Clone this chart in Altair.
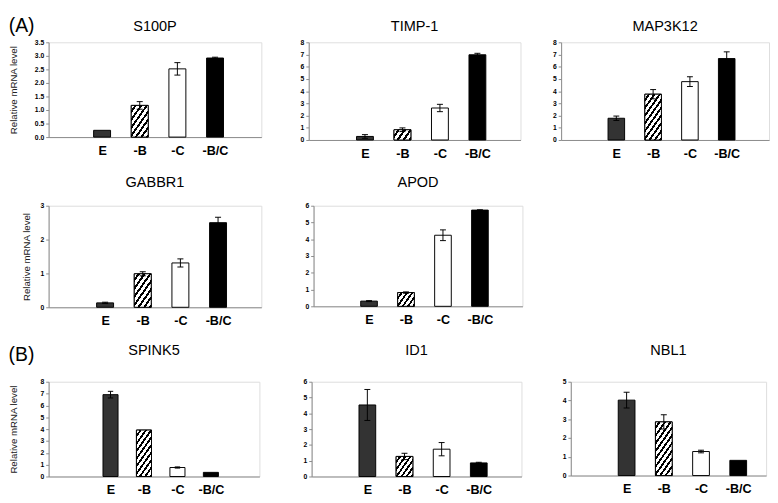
import math
import altair as alt
import pandas as pd

CATS = ["E", "-B", "-C", "-B/C"]

# (A) up-regulated genes
S100P_VAL = [0.25, 1.17, 2.52, 2.92]
S100P_ERR = [0.0, 0.14, 0.23, 0.03]
TIMP1_VAL = [0.29, 0.84, 2.62, 6.98]
TIMP1_ERR = [0.15, 0.15, 0.30, 0.12]
MAP3K12_VAL = [1.78, 3.75, 4.78, 6.67]
MAP3K12_ERR = [0.18, 0.38, 0.40, 0.55]
GABBR1_VAL = [0.13, 0.99, 1.31, 2.50]
GABBR1_ERR = [0.02, 0.06, 0.12, 0.16]
APOD_VAL = [0.31, 0.82, 4.24, 5.74]
APOD_ERR = [0.03, 0.04, 0.32, 0.02]
# (B) down-regulated genes
SPINK5_VAL = [6.91, 3.92, 0.76, 0.35]
SPINK5_ERR = [0.28, 0.0, 0.05, 0.0]
ID1_VAL = [4.53, 1.27, 1.73, 0.86]
ID1_ERR = [0.98, 0.20, 0.42, 0.04]
NBL1_VAL = [4.02, 2.86, 1.28, 0.81]
NBL1_ERR = [0.42, 0.38, 0.07, 0.0]

FONT = "Liberation Sans"
HALF = 0.225
AXIS_GRAY = "#8a8a8a"


def hatch_fill(w, h, theta=55, period=4.6, frac=0.42):
    th = math.radians(theta)
    s, c = math.sin(th), math.cos(th)
    L = w * s + h * c
    k = L / (w * w * s * s + h * h * c * c)
    gx, gy = k * w * s, k * h * c
    n = max(1, round(L / period))
    stops = []
    for i in range(n):
        a = i / n
        b = (i + 1 - frac) / n
        e = (i + 1) / n
        stops += [
            {"offset": a, "color": "white"},
            {"offset": b, "color": "white"},
            {"offset": b, "color": "black"},
            {"offset": e, "color": "black"},
        ]
    return {"gradient": "linear", "x1": 0, "y1": 0, "x2": gx, "y2": gy, "stops": stops}


def panel(name, vals, errs, ymax, ystep, fmt, e_color, ytitle, W, H,
          tpad=8, toff=9, ext=0, xdom=(0, 5.65)):
    df = pd.DataFrame({"cat": CATS, "idx": list(range(len(CATS))), "val": vals, "err": errs})
    base = alt.Chart(df).transform_calculate(
        pos="datum.idx + 1.5",
        x0=f"datum.idx + 1.5 - {HALF}",
        x1=f"datum.idx + 1.5 + {HALF}",
        c0="datum.idx + 1.5 - 0.08",
        c1="datum.idx + 1.5 + 0.08",
        zero="0",
        lo="datum.val - datum.err",
        hi="datum.val + datum.err",
    )
    nticks = int(round(ymax / ystep))
    yvals = [round(i * ystep, 3) for i in range(nticks + 1)]
    xscale = alt.Scale(domain=list(xdom), nice=False, zero=False)
    yscale = alt.Scale(domain=[0, ymax], nice=False)
    label_expr = "[" + ",".join(f"'{c}'" for c in CATS) + "][round(datum.value - 1.5)]"
    xax = alt.Axis(
        values=[i + 1.5 for i in range(len(CATS))],
        labelExpr=label_expr,
        ticks=False,
        grid=False,
        title=None,
        domainColor=AXIS_GRAY,
        labelFontSize=13,
        labelFontWeight="bold",
        labelFont=FONT,
        labelColor="black",
        labelPadding=8,
        labelOverlap=False,
    )
    yargs = dict(
        values=yvals,
        format=fmt,
        grid=False,
        title=ytitle if ytitle else None,
        domainColor=AXIS_GRAY,
        tickColor=AXIS_GRAY,
        tickSize=3,
        labelFontSize=7,
        labelFontWeight="bold",
        labelFont=FONT,
        labelColor="black",
        labelPadding=2,
        labelOverlap=False,
        labelFlush=False,
        titleFont=FONT,
        titleFontSize=10,
        titleFontWeight="normal",
        titleColor="#222222",
        titlePadding=tpad,
    )
    if ext:
        yargs["minExtent"] = ext
    yax = alt.Axis(**yargs)

    def X(f):
        return alt.X(f"{f}:Q", scale=xscale, axis=xax)

    def Y(f):
        return alt.Y(f"{f}:Q", scale=yscale, axis=yax)

    bars = base.mark_rect(stroke="black", strokeWidth=1).encode(
        x=X("x0"),
        x2="x1:Q",
        y=Y("val"),
        y2="zero:Q",
        fill=alt.Color(
            "cat:N",
            scale=alt.Scale(domain=CATS, range=[e_color, "white", "white", "black"]),
            legend=None,
        ),
    )
    w_px = 2 * HALF * W / (xdom[1] - xdom[0])
    h_px = vals[1] / ymax * H
    hatch = base.transform_filter("datum.cat == '-B'").mark_rect(
        fill=hatch_fill(w_px, h_px), stroke="black", strokeWidth=1
    ).encode(x=X("x0"), x2="x1:Q", y=Y("val"), y2="zero:Q")
    eb = base.transform_filter("datum.err > 0")
    stem = eb.mark_rule(color="black", strokeWidth=1).encode(
        x=X("pos"), y=Y("lo"), y2="hi:Q"
    )
    cap_hi = eb.mark_rule(color="black", strokeWidth=1).encode(
        x=X("c0"), x2="c1:Q", y=Y("hi")
    )
    cap_lo = eb.mark_rule(color="black", strokeWidth=1).encode(
        x=X("c0"), x2="c1:Q", y=Y("lo")
    )
    return alt.layer(bars, hatch, stem, cap_hi, cap_lo).properties(
        width=W,
        height=H,
        title=alt.TitleParams(
            text=name, font=FONT, fontSize=15, fontWeight="normal", color="black", offset=toff
        ),
    )


YT = "Relative mRNA level"
DARK = "#333333"
MID = "#808080"

row1 = alt.hconcat(
    panel("S100P", S100P_VAL, S100P_ERR, 3.5, 0.5, ".1f", DARK, YT, 220, 98, tpad=16, toff=5,
          xdom=(0.08, 5.73)),
    panel("TIMP-1", TIMP1_VAL, TIMP1_ERR, 8, 1, "d", DARK, None, 219, 101, toff=5, ext=37),
    panel("MAP3K12", MAP3K12_VAL, MAP3K12_ERR, 8, 1, "d", DARK, None, 215, 101, toff=5, ext=30),
    spacing=10,
).properties(
    title=alt.TitleParams(
        text="(A)", anchor="start", font=FONT, fontSize=20, fontWeight="normal",
        color="black", offset=-18,
    )
)
row2 = alt.hconcat(
    panel("GABBR1", GABBR1_VAL, GABBR1_ERR, 3, 1, "d", DARK, YT, 220, 105, tpad=9, toff=12),
    panel("APOD", APOD_VAL, APOD_ERR, 6, 1, "d", DARK, None, 216, 104, toff=12, ext=42),
    spacing=10,
)
row3 = alt.hconcat(
    panel("SPINK5", SPINK5_VAL, SPINK5_ERR, 8, 1, "d", MID, YT, 218, 98, tpad=22, toff=21,
          xdom=(-0.35, 5.95)),
    panel("ID1", ID1_VAL, ID1_ERR, 6, 1, "d", MID, None, 217, 98, toff=21, ext=42),
    panel("NBL1", NBL1_VAL, NBL1_ERR, 5, 1, "d", MID, None, 202, 97, toff=21, ext=39,
          xdom=(0, 5.25)),
    spacing=10,
).properties(
    title=alt.TitleParams(
        text="(B)", anchor="start", font=FONT, fontSize=20, fontWeight="normal",
        color="black", offset=-23,
    )
)

chart = alt.vconcat(row1, row2, row3, spacing=14).properties(
    padding={"left": 0, "top": 0, "right": 0, "bottom": 0}
).configure_view(stroke="#b4b4b4", strokeWidth=1).configure(background="white")

chart.save("out.html", embed_options={"renderer": "svg", "actions": False})
